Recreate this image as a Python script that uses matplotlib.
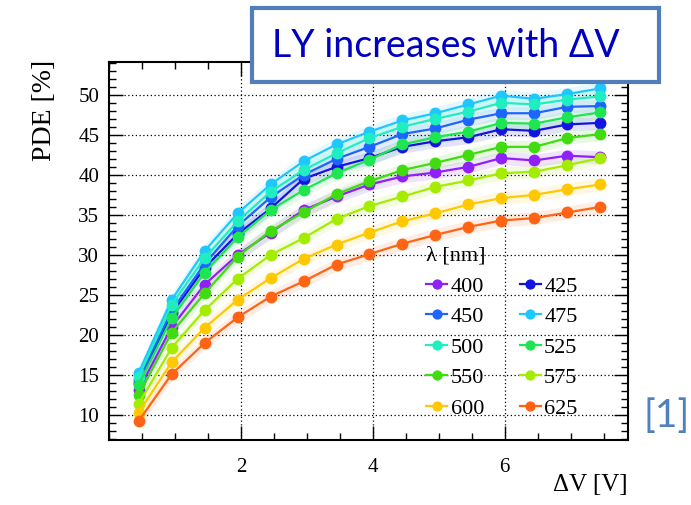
import matplotlib
matplotlib.use("Agg")
import matplotlib.pyplot as plt
from matplotlib.patches import Rectangle
from matplotlib.ticker import MultipleLocator

# overvoltage points [V]
dv = [0.45, 0.95, 1.45, 1.95, 2.45, 2.95, 3.45, 3.95, 4.45, 4.95, 5.45, 5.95, 6.45, 6.95, 7.45]

wavelengths = [400, 425, 450, 475, 500, 525, 550, 575, 600, 625]

pde_400 = [13.1, 21.0, 26.3, 30.0, 32.8, 35.6, 37.3, 38.8, 39.8, 40.3, 41.0, 42.1, 41.8, 42.4, 42.2]
pde_425 = [14.0, 22.7, 28.4, 32.6, 35.8, 39.5, 41.0, 42.1, 43.5, 44.2, 44.7, 45.7, 45.5, 46.3, 46.5]
pde_450 = [14.4, 23.0, 28.9, 33.6, 37.2, 40.0, 42.0, 43.5, 45.1, 45.8, 46.9, 47.7, 47.7, 48.5, 48.6]
pde_475 = [15.3, 24.4, 30.5, 35.2, 38.8, 41.7, 43.8, 45.4, 46.8, 47.7, 48.8, 49.9, 49.5, 50.1, 50.8]
pde_500 = [14.8, 23.8, 29.6, 34.2, 37.9, 40.6, 42.7, 44.6, 46.0, 47.0, 47.9, 49.0, 48.8, 49.4, 49.8]
pde_525 = [13.8, 22.1, 27.8, 32.2, 35.6, 38.1, 40.2, 41.9, 43.8, 44.7, 45.4, 46.5, 46.4, 47.2, 47.8]
pde_550 = [12.5, 20.3, 25.2, 29.8, 33.0, 35.3, 37.6, 39.2, 40.6, 41.5, 42.5, 43.5, 43.5, 44.6, 45.1]
pde_575 = [11.4, 18.4, 23.1, 27.0, 30.0, 32.1, 34.5, 36.1, 37.3, 38.5, 39.3, 40.2, 40.4, 41.2, 42.1]
pde_600 = [10.3, 16.6, 20.9, 24.4, 27.1, 29.5, 31.3, 32.8, 34.2, 35.2, 36.3, 37.1, 37.5, 38.2, 38.8]
pde_625 = [9.25, 15.1, 19.0, 22.2, 24.8, 26.7, 28.8, 30.1, 31.4, 32.5, 33.5, 34.3, 34.6, 35.3, 36.0]

series = [pde_400, pde_425, pde_450, pde_475, pde_500,
          pde_525, pde_550, pde_575, pde_600, pde_625]
colors = ["#9020F8", "#1414E0", "#1E64FF", "#1EC8FF", "#1EEEC0",
          "#1EE650", "#40DC10", "#A4EC00", "#FFC800", "#FF6414"]

y_ticks = [10, 15, 20, 25, 30, 35, 40, 45, 50]
x_ticks = [2, 4, 6]

serif = "Liberation Serif"

fig = plt.figure(figsize=(6.91, 5.05), dpi=100)
ax = fig.add_axes([109 / 691, 1 - 440 / 505, 519 / 691, 378 / 505])

handles = {}
for wl, y, c in zip(wavelengths, series, colors):
    lo = [v - 0.8 for v in y]
    hi = [v + 0.8 for v in y]
    ax.fill_between(dv, lo, hi, color=c, alpha=0.12, lw=0)
    h, = ax.plot(dv, y, color=c, lw=1.6, marker="o", ms=7.5, label=str(wl))
    handles[wl] = h

ax.set_xlim(0, 7.87)
ax.set_ylim(6.88, 54.1)
ax.set_xticks(x_ticks)
ax.set_yticks(y_ticks)
ax.xaxis.set_minor_locator(MultipleLocator(0.5))
ax.yaxis.set_minor_locator(MultipleLocator(1))
ax.tick_params(which="both", direction="in", top=True, right=True, width=1.0)
ax.tick_params(which="major", length=10)
ax.tick_params(which="minor", length=5)
ax.tick_params(axis="x", pad=13)
ax.tick_params(axis="y", pad=7)
for lab in ax.get_xticklabels() + ax.get_yticklabels():
    lab.set_fontfamily(serif)
    lab.set_fontsize(15)
for sp in ax.spines.values():
    sp.set_linewidth(1.5)
ax.grid(True, which="major", color="black", linestyle=(0, (1, 2)), lw=0.9)

ax.set_xlabel("ΔV [V]", fontfamily=serif, fontsize=18, loc="right")
ax.xaxis.set_label_coords(1.0, -0.09)
ax.set_ylabel("PDE [%]", fontfamily=serif, fontsize=20, loc="top")
ax.yaxis.set_label_coords(-0.10, 1.005)

order = [400, 450, 500, 550, 600, 425, 475, 525, 575, 625]
leg = ax.legend([handles[w] for w in order], [str(w) for w in order],
                ncol=2, title="λ [nm]", alignment="left", frameon=False,
                loc="upper left", bbox_to_anchor=(0.59, 0.54),
                prop={"family": serif, "size": 16},
                title_fontproperties={"family": serif, "size": 16},
                handlelength=0.95, handletextpad=0.15, columnspacing=1.6,
                labelspacing=0.45, borderpad=0, markerscale=0.85)

# annotation box over the top of the plot
fig.add_artist(Rectangle((252 / 691, 1 - 82 / 505), 407 / 691, 74 / 505,
                         transform=fig.transFigure, facecolor="white",
                         edgecolor="#4F7EBB", lw=3, zorder=5))
fig.text(446 / 691, 1 - 46 / 505, "LY increases with ΔV", ha="center", va="center",
         fontfamily="Lato", fontsize=27, color="#0000C0", zorder=6)
fig.text(667 / 691, 1 - 416 / 505, "[1]", ha="center", va="center",
         fontfamily="Lato", fontsize=28, color="#4F81BD")

fig.savefig("out.png", dpi=100)
